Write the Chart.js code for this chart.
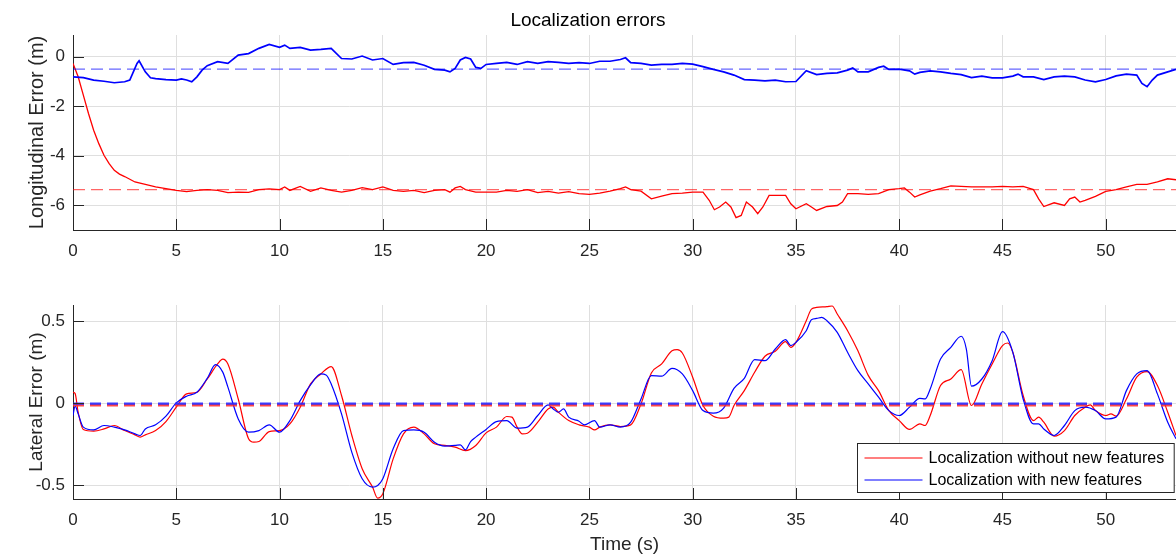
<!DOCTYPE html>
<html>
<head>
<meta charset="utf-8">
<script src="https://cdn.jsdelivr.net/npm/chart.js@4.4.1/dist/chart.umd.min.js"></script>
<style>
  html, body { margin: 0; padding: 0; background: #fff; }
  #wrap { position: relative; width: 1176px; height: 554px; }
  .panel { position: absolute; left: 0; width: 1176px; }
  .panel canvas { display: block; }
  #topPanel { top: 0; height: 265px; }
  #bottomPanel { top: 265px; height: 289px; }
</style>
</head>
<body>
<div id="wrap">
  <div class="panel" id="topPanel"><canvas id="longitudinal" width="1176" height="265"></canvas></div>
  <div class="panel" id="bottomPanel"><canvas id="lateral" width="1176" height="289"></canvas></div>
</div>
<script>
// colors
const red = "#ff0000";
const blue = "#0000ff";
const axisColor = "#262626";
const gridColor = "#dfdfdf";
const fontFamily = "'Liberation Sans', Arial, sans-serif";

// time axis
const timeMin = 0;
const timeMax = 53.4;
const timeTicks = [0, 5, 10, 15, 20, 25, 30, 35, 40, 45, 50];

// longitudinal error (top)
const longTicks = [-6, -4, -2, 0];
const longMin = -7;
const longMax = 0.88;

const longTimeBlue = [
  0, 0.5, 1, 1.5, 2, 2.5, 2.75, 3.1, 3.2, 3.5,
  3.75, 4, 4.5, 5, 5.25, 5.5, 5.75, 6, 6.25, 6.5,
  7, 7.5, 8, 8.5, 9, 9.5, 10, 10.25, 10.5, 11,
  11.5, 12, 12.5, 13, 13.5, 14, 14.5, 15, 15.5, 16,
  16.5, 17, 17.5, 18, 18.25, 18.5, 18.75, 19, 19.25, 19.5,
  19.75, 20, 20.5, 21, 21.5, 22, 22.5, 23, 23.5, 24,
  24.5, 25, 25.5, 26, 26.5, 26.75, 27, 27.5, 28, 28.5,
  29, 29.5, 30, 30.5, 31, 31.5, 32, 32.5, 33, 33.5,
  34, 34.5, 35, 35.5, 36, 36.5, 37, 37.5, 37.75, 38,
  38.5, 39, 39.25, 39.5, 40, 40.5, 40.75, 41, 41.5, 42,
  42.5, 43, 43.5, 44, 44.5, 45, 45.5, 45.75, 46, 46.5,
  47, 47.5, 48, 48.5, 49, 49.5, 50, 50.5, 51, 51.5,
  51.75, 52, 52.25, 52.5, 53, 53.4
];
const longBlue = [
  -0.81, -0.84, -0.94, -0.99, -1.05, -1.01, -0.94, -0.27, -0.16, -0.61,
  -0.85, -0.88, -0.92, -0.94, -0.89, -0.94, -1.01, -0.81, -0.54, -0.36,
  -0.2, -0.27, 0.07, 0.13, 0.34, 0.5, 0.38, 0.47, 0.34, 0.38,
  0.27, 0.3, 0.34, -0.07, -0.09, 0.03, -0.13, -0.07, -0.31, -0.24,
  -0.23, -0.34, -0.51, -0.54, -0.61, -0.47, -0.13, -0.03, -0.09, -0.43,
  -0.47, -0.31, -0.27, -0.23, -0.31, -0.2, -0.27, -0.2, -0.23, -0.27,
  -0.24, -0.27, -0.18, -0.18, -0.11, -0.04, -0.24, -0.27, -0.34, -0.31,
  -0.31, -0.27, -0.3, -0.4, -0.51, -0.61, -0.74, -0.92, -0.94, -0.97,
  -0.94, -1.01, -1.0, -0.56, -0.72, -0.67, -0.65, -0.54, -0.45, -0.61,
  -0.61, -0.43, -0.38, -0.51, -0.5, -0.57, -0.7, -0.63, -0.57, -0.61,
  -0.67, -0.72, -0.84, -0.78, -0.85, -0.85, -0.78, -0.7, -0.81, -0.81,
  -0.92, -0.81, -0.78, -0.81, -0.94, -1.01, -0.92, -0.77, -0.7, -0.74,
  -1.08, -1.21, -0.94, -0.74, -0.61, -0.51
];

const longTimeRed = [
  0, 0.25, 0.5, 0.75, 1, 1.25, 1.5, 1.75, 2, 2.25, 2.5,
  3, 3.5, 4, 4.5, 5, 5.5, 6, 6.5, 7, 7.5,
  8, 8.5, 9, 9.5, 10, 10.25, 10.5, 11, 11.5, 12,
  12.5, 13, 13.5, 14, 14.5, 15, 15.5, 16, 16.5, 17,
  17.5, 18, 18.25, 18.5, 18.75, 19, 19.5, 20, 20.5, 21,
  21.5, 22, 22.5, 23, 23.5, 24, 24.5, 25, 25.5, 26,
  26.5, 26.75, 27, 27.5, 28, 28.5, 29, 29.5, 30, 30.5,
  30.8, 31.05, 31.3, 31.6, 31.85, 32.1, 32.35, 32.6, 32.9, 33.15,
  33.4, 33.7, 34, 34.5, 34.75, 35, 35.5, 35.75, 36, 36.5,
  37, 37.25, 37.5, 38, 38.5, 39, 39.5, 40, 40.25, 40.5,
  40.75, 41, 41.5, 42, 42.5, 43, 43.5, 44, 44.5, 45,
  45.5, 46, 46.5, 46.75, 47, 47.5, 48, 48.25, 48.5, 48.75,
  49, 49.5, 50, 50.5, 51, 51.5, 52, 52.5, 53, 53.4
];
const longRed = [
  -0.27, -0.81, -1.55, -2.29, -2.97, -3.51, -3.98, -4.32, -4.59, -4.74, -4.84,
  -5.06, -5.16, -5.26, -5.33, -5.4, -5.45, -5.4, -5.37, -5.4, -5.49,
  -5.47, -5.48, -5.37, -5.34, -5.37, -5.26, -5.4, -5.24, -5.44, -5.3,
  -5.4, -5.47, -5.4, -5.29, -5.37, -5.26, -5.4, -5.44, -5.4, -5.49,
  -5.4, -5.37, -5.47, -5.3, -5.24, -5.37, -5.47, -5.47, -5.47, -5.4,
  -5.44, -5.37, -5.49, -5.44, -5.51, -5.45, -5.53, -5.56, -5.51, -5.43,
  -5.33, -5.26, -5.37, -5.43, -5.74, -5.63, -5.53, -5.51, -5.47, -5.47,
  -5.8, -6.18, -6.07, -5.87, -6.07, -6.5, -6.41, -5.87, -6.07, -6.34,
  -6.07, -5.6, -5.6, -5.6, -5.94, -6.14, -5.94, -6.07, -6.21, -6.05,
  -6.01, -5.87, -5.53, -5.53, -5.56, -5.53, -5.37, -5.33, -5.3, -5.47,
  -5.67, -5.58, -5.43, -5.33, -5.22, -5.24, -5.26, -5.26, -5.26, -5.24,
  -5.26, -5.24, -5.37, -5.74, -6.05, -5.9, -6.01, -5.74, -5.67, -5.87,
  -5.8, -5.64, -5.44, -5.37, -5.26, -5.16, -5.16, -5.06, -4.93, -4.97
];
const longMeanRed = -5.37;
const longMeanBlue = -0.5;

// lateral error (bottom)
const latTicks = [-0.5, 0, 0.5];
const latMin = -0.585;
const latMax = 0.6;

const latTimeRed = [
  0, 0.1, 0.25, 0.5, 1, 1.5, 2, 2.5, 3, 3.25,
  3.5, 4, 4.5, 5, 5.5, 6, 6.5, 7, 7.25, 7.5,
  8, 8.5, 8.75, 9, 9.5, 10, 10.5, 11, 11.5, 12,
  12.5, 13, 13.5, 14, 14.5, 14.75, 15, 15.5, 16, 16.5,
  17, 17.5, 18, 18.5, 19, 19.5, 20, 20.5, 21, 21.25,
  21.5, 21.75, 22, 22.5, 23, 23.25, 23.5, 24, 24.5, 25,
  25.25, 25.5, 26, 26.5, 27, 27.5, 28, 28.5, 29, 29.25,
  29.5, 30, 30.5, 31, 31.5, 31.75, 32, 32.5, 33, 33.5,
  34, 34.5, 34.75, 35, 35.5, 35.75, 36, 36.5, 36.75, 37,
  37.5, 38, 38.5, 39, 39.5, 40, 40.5, 41, 41.25, 41.5,
  42, 42.5, 43, 43.5, 44, 44.5, 45, 45.25, 45.5, 46,
  46.5, 46.75, 47, 47.5, 48, 48.5, 49, 49.25, 49.5, 50,
  50.25, 50.5, 51, 51.5, 52, 52.5, 53, 53.4
];
const latRed = [
  0.067, 0.06, -0.055, -0.16, -0.17, -0.157, -0.136, -0.167, -0.193, -0.207,
  -0.193, -0.167, -0.112, -0.024, 0.057, 0.067, 0.148, 0.24, 0.27, 0.24,
  0.026, -0.217, -0.238, -0.234, -0.173, -0.167, -0.126, -0.024, 0.118, 0.179,
  0.224, 0.047, -0.197, -0.4, -0.512, -0.58, -0.553, -0.34, -0.187, -0.146,
  -0.187, -0.248, -0.258, -0.268, -0.289, -0.258, -0.181, -0.146, -0.081, -0.085,
  -0.146, -0.187, -0.183, -0.116, -0.035, -0.024, -0.055, -0.106, -0.132, -0.146,
  -0.163, -0.146, -0.132, -0.142, -0.132, -0.004, 0.185, 0.24, 0.32, 0.327,
  0.307, 0.159, -0.014, -0.079, -0.091, -0.085, -0.014, 0.077, 0.189, 0.287,
  0.317, 0.376, 0.341, 0.372, 0.504, 0.575, 0.585, 0.59, 0.594, 0.545,
  0.443, 0.32, 0.17, 0.077, -0.045, -0.106, -0.16, -0.126, -0.136, -0.075,
  0.108, 0.148, 0.205, -0.014, 0.118, 0.24, 0.352, 0.368, 0.311, 0.047,
  -0.106, -0.085, -0.116, -0.201, -0.167, -0.075, -0.024, -0.01, -0.045, -0.075,
  -0.065, -0.079, 0.026, 0.159, 0.193, 0.108, -0.055, -0.197
];

const latTimeBlue = [
  0, 0.1, 0.25, 0.5, 1, 1.5, 2, 2.5, 3, 3.25,
  3.5, 4, 4.5, 5, 5.5, 6, 6.5, 6.9, 7.25, 7.5,
  8, 8.5, 9, 9.5, 10, 10.5, 11, 11.5, 12, 12.25,
  12.5, 13, 13.5, 14, 14.5, 14.75, 15, 15.5, 16, 16.5,
  17, 17.5, 18, 18.5, 18.75, 19, 19.25, 19.5, 20, 20.5,
  21, 21.5, 22, 22.5, 23, 23.25, 23.5, 23.75, 24, 24.5,
  24.75, 25.25, 25.5, 26, 26.5, 27, 27.5, 28, 28.5, 29,
  29.5, 30, 30.5, 31, 31.5, 32, 32.5, 33, 33.5, 34,
  34.5, 34.75, 35, 35.5, 35.75, 36, 36.25, 36.5, 37, 37.5,
  38, 38.5, 39, 39.5, 40, 40.5, 41, 41.25, 41.5, 42,
  42.5, 43, 43.25, 43.5, 44, 44.5, 45, 45.5, 46, 46.5,
  46.75, 47, 47.5, 48, 48.5, 49, 49.5, 50, 50.5, 51,
  51.5, 52, 52.5, 53, 53.4
];
const latBlue = [
  -0.075, -0.018, -0.065, -0.146, -0.163, -0.136, -0.146, -0.163, -0.187, -0.197,
  -0.157, -0.132, -0.079, 0.002, 0.043, 0.067, 0.152, 0.236, 0.19, 0.098,
  -0.096, -0.177, -0.167, -0.132, -0.177, -0.106, 0.016, 0.112, 0.179, 0.173,
  0.118, -0.065, -0.3, -0.461, -0.512, -0.502, -0.461, -0.278, -0.167, -0.163,
  -0.177, -0.238, -0.262, -0.258, -0.254, -0.285, -0.234, -0.207, -0.16, -0.112,
  -0.106, -0.152, -0.146, -0.075, -0.01, -0.035, -0.055, -0.035, -0.085, -0.11,
  -0.132, -0.106, -0.146, -0.132, -0.146, -0.116, 0.026, 0.169, 0.165, 0.213,
  0.179, 0.077, -0.045, -0.061, -0.03, 0.091, 0.152, 0.266, 0.26, 0.331,
  0.388, 0.352, 0.372, 0.443, 0.51, 0.518, 0.524, 0.504, 0.433, 0.311,
  0.199, 0.118, 0.037, -0.045, -0.075, -0.024, 0.03, 0.026, 0.087, 0.27,
  0.341, 0.409, 0.331, 0.104, 0.148, 0.26, 0.437, 0.311, 0.026, -0.126,
  -0.126, -0.157, -0.197, -0.136, -0.045, -0.024, -0.045, -0.096, -0.085, 0.077,
  0.179, 0.199, 0.057, -0.116, -0.217
];
const latMeanRed = -0.012;
const latMeanBlue = -0.003;

const labelRed = "Localization without new features";
const labelBlue = "Localization with new features";

// helpers
const toPoints = (times, values) => times.map((t, i) => ({ x: t, y: values[i] }));
const flatLine = (v) => [{ x: timeMin, y: v }, { x: timeMax, y: v }];

// MATLAB style ticks pointing into the axes
const innerTicks = {
  id: "innerTicks",
  afterDraw(chart) {
    const { ctx, chartArea, scales } = chart;
    const len = 11;
    ctx.save();
    ctx.strokeStyle = axisColor;
    ctx.lineWidth = 1;
    ctx.beginPath();
    scales.x.ticks.forEach((t) => {
      const px = Math.round(scales.x.getPixelForValue(t.value)) + 0.5;
      ctx.moveTo(px, chartArea.bottom);
      ctx.lineTo(px, chartArea.bottom - len);
    });
    scales.y.ticks.forEach((t) => {
      const py = Math.round(scales.y.getPixelForValue(t.value)) + 0.5;
      ctx.moveTo(chartArea.left, py);
      ctx.lineTo(chartArea.left + len, py);
    });
    ctx.stroke();
    ctx.restore();
  },
};

// legend box in the lower right corner of the plot
const boxLegend = {
  id: "boxLegend",
  afterDraw(chart, args, opts) {
    if (!opts.display) return;
    const { ctx, chartArea } = chart;
    const items = chart.data.datasets.filter((d) => d.legendColor);
    ctx.save();
    ctx.font = "16px " + fontFamily;
    const textW = Math.max(...items.map((d) => ctx.measureText(d.label).width));
    const w = 7 + 58 + 6 + textW + 10;
    const h = 14 + (items.length - 1) * 22 + 13;
    const x = Math.round(chartArea.right - 2 - w) + 0.5;
    const y = Math.round(chartArea.bottom - 7 - h) + 0.5;
    ctx.fillStyle = "#ffffff";
    ctx.fillRect(x, y, w, h);
    ctx.strokeStyle = axisColor;
    ctx.lineWidth = 1;
    ctx.strokeRect(x, y, w, h);
    items.forEach((d, i) => {
      const cy = Math.round(y + 14 + i * 22);
      ctx.beginPath();
      ctx.strokeStyle = d.legendColor;
      ctx.lineWidth = 1.2;
      ctx.moveTo(x + 7, cy);
      ctx.lineTo(x + 65, cy);
      ctx.stroke();
      ctx.fillStyle = "#000000";
      ctx.textBaseline = "middle";
      ctx.textAlign = "left";
      ctx.fillText(d.label, x + 71, cy + 1);
    });
    ctx.restore();
  },
};

function makeOptions(cfg) {
  return {
    responsive: false,
    animation: false,
    events: [],
    layout: { padding: { top: cfg.padTop, left: 0, right: 0, bottom: 0 } },
    elements: { point: { radius: 0 } },
    plugins: {
      legend: { display: false },
      tooltip: { enabled: false },
      title: cfg.title
        ? {
            display: true,
            text: cfg.title,
            color: "#000000",
            font: { family: fontFamily, size: 19, weight: "normal" },
            padding: { top: 9.6, bottom: 2.6 },
          }
        : { display: false },
      boxLegend: { display: cfg.legend },
    },
    scales: {
      x: {
        type: "linear",
        min: timeMin,
        max: timeMax,
        afterBuildTicks: (s) => {
          s.ticks = timeTicks.map((v) => ({ value: v }));
        },
        afterFit: (s) => {
          s.height = cfg.xHeight;
        },
        grid: { color: gridColor, drawTicks: false },
        border: { display: true, color: axisColor, width: 1 },
        ticks: {
          color: axisColor,
          font: { family: fontFamily, size: 17 },
          padding: 11,
          maxRotation: 0,
          callback: (v) => String(v),
        },
        title: cfg.xTitle
          ? {
              display: true,
              text: cfg.xTitle,
              color: axisColor,
              font: { family: fontFamily, size: 19, lineHeight: 1 },
              padding: { top: 0, bottom: 0 },
            }
          : { display: false },
      },
      y: {
        type: "linear",
        min: cfg.yMin,
        max: cfg.yMax,
        afterBuildTicks: (s) => {
          s.ticks = cfg.yTicks.map((v) => ({ value: v }));
        },
        afterFit: (s) => {
          s.width = 73;
        },
        grid: { color: gridColor, drawTicks: false },
        border: { display: true, color: axisColor, width: 1 },
        ticks: {
          color: axisColor,
          font: { family: fontFamily, size: 17 },
          padding: 8,
          callback: (v) => String(v),
        },
        title: {
          display: true,
          text: cfg.yTitle,
          color: axisColor,
          font: { family: fontFamily, size: cfg.yTitleSize },
          padding: { top: 25.6, bottom: 0 },
        },
      },
    },
  };
}

const longChart = new Chart(document.getElementById("longitudinal"), {
  type: "line",
  data: {
    datasets: [
      {
        label: "mean without new features",
        data: flatLine(longMeanRed),
        borderColor: "rgba(255,0,0,0.6)",
        borderWidth: 1.3,
        borderDash: [12, 6],
        order: 2,
      },
      {
        label: "mean with new features",
        data: flatLine(longMeanBlue),
        borderColor: "rgba(0,0,255,0.6)",
        borderWidth: 1.3,
        borderDash: [12, 6],
        order: 1,
      },
      {
        label: labelRed,
        data: toPoints(longTimeRed, longRed),
        borderColor: red,
        borderWidth: 1.3,
        tension: 0,
        order: 4,
      },
      {
        label: labelBlue,
        data: toPoints(longTimeBlue, longBlue),
        borderColor: blue,
        borderWidth: 1.7,
        tension: 0,
        order: 3,
      },
    ],
  },
  options: makeOptions({
    title: "Localization errors",
    padTop: 0,
    xHeight: 35,
    yMin: longMin,
    yMax: longMax,
    yTicks: longTicks,
    yTitle: "Longitudinal Error (m)",
    yTitleSize: 20,
    legend: false,
  }),
  plugins: [innerTicks, boxLegend],
});

const latChart = new Chart(document.getElementById("lateral"), {
  type: "line",
  data: {
    datasets: [
      {
        label: labelRed,
        legendColor: red,
        data: toPoints(latTimeRed, latRed),
        borderColor: red,
        borderWidth: 1.2,
        cubicInterpolationMode: "monotone",
        order: 4,
      },
      {
        label: labelBlue,
        legendColor: blue,
        data: toPoints(latTimeBlue, latBlue),
        borderColor: blue,
        borderWidth: 1.2,
        cubicInterpolationMode: "monotone",
        order: 3,
      },
      {
        label: "mean without new features",
        data: flatLine(latMeanRed),
        borderColor: "rgba(255,40,40,0.85)",
        borderWidth: 2.5,
        borderDash: [11, 6],
        order: 2,
      },
      {
        label: "mean with new features",
        data: flatLine(latMeanBlue),
        borderColor: "rgba(40,40,255,0.9)",
        borderWidth: 2.2,
        borderDash: [11, 6],
        order: 1,
      },
    ],
  },
  options: makeOptions({
    title: null,
    padTop: 40,
    xHeight: 55,
    yMin: latMin,
    yMax: latMax,
    yTicks: latTicks,
    yTitle: "Lateral Error (m)",
    yTitleSize: 19,
    xTitle: "Time (s)",
    legend: true,
  }),
  plugins: [innerTicks, boxLegend],
});
</script>
</body>
</html>
